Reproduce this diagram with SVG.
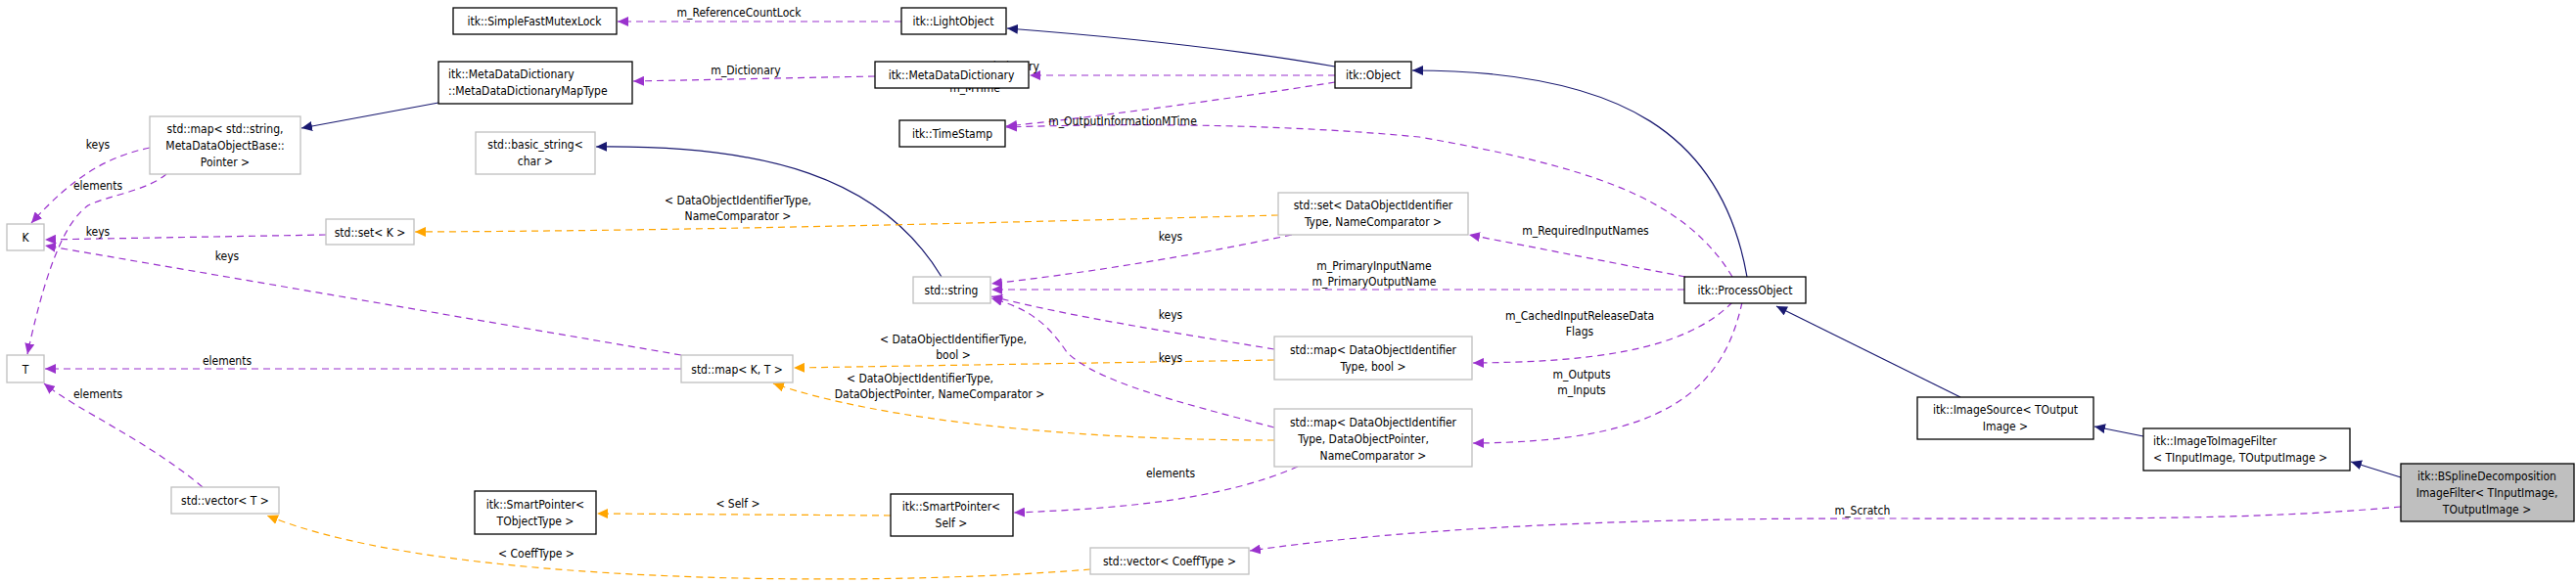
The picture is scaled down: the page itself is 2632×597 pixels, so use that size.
<svg xmlns="http://www.w3.org/2000/svg" width="2632" height="597" viewBox="0 0 2632 597">
<style>
text{font-family:"DejaVu Sans Condensed","Liberation Sans Narrow","DejaVu Sans",sans-serif;font-size:12px;fill:#000}
.n rect{fill:#fff;stroke:#000;stroke-width:1.3}
.g rect{fill:#fff;stroke:#bfbfbf;stroke-width:1.3}
.sel rect{fill:#bfbfbf;stroke:#000;stroke-width:1.3}
.c text{text-anchor:middle}
.p{fill:none;stroke:#9a32cd;stroke-dasharray:7,5;stroke-width:1.2;marker-end:url(#ap)}
.o{fill:none;stroke:#ffa500;stroke-dasharray:7,5;stroke-width:1.2;marker-end:url(#ao)}
.b{fill:none;stroke:#191970;stroke-width:1.2;marker-end:url(#ab)}
.l{text-anchor:middle}
</style>
<defs>
<marker id="ap" markerWidth="12" markerHeight="10" refX="11" refY="5" orient="auto" markerUnits="userSpaceOnUse"><path d="M0,0L11,5L0,10z" fill="#9a32cd"/></marker>
<marker id="ao" markerWidth="12" markerHeight="10" refX="11" refY="5" orient="auto" markerUnits="userSpaceOnUse"><path d="M0,0L11,5L0,10z" fill="#ffa500"/></marker>
<marker id="ab" markerWidth="12" markerHeight="10" refX="11" refY="5" orient="auto" markerUnits="userSpaceOnUse"><path d="M0,0L11,5L0,10z" fill="#191970"/></marker>
</defs>
<g id="edges">
<path class="p" d="M921,22 L631,22"/><text class="l" x="755" y="17">m_ReferenceCountLock</text>
<path class="b" d="M1364,68 C1250,48 1120,36 1029,29"/>
<path class="p" d="M894,78 L647,83"/><text class="l" x="762" y="76">m_Dictionary</text>
<path class="b" d="M448,105 L308,131"/>
<path class="p" d="M1364,77 L1052,77"/><text class="l" x="1000" y="72">m_MetaDataDictionary</text>
<path class="p" d="M1364,84 C1250,102 1100,122 1028,129"/><text class="l" x="996" y="94">m_MTime</text>
<path class="p" d="M1770,283 C1720,200 1620,170 1450,140 C1300,126 1150,126 1028,130"/><text class="l" x="1147" y="128">m_OutputInformationMTime</text>
<path class="b" d="M1785,283 C1760,140 1660,72 1443,72"/>
<path class="b" d="M962,283 C900,180 780,148 609,150"/>
<path class="p" d="M153,151 C110,160 75,180 32,228"/><text class="l" x="100" y="152">keys</text>
<path class="p" d="M170,178 C150,195 110,200 90,210 C70,225 50,260 28,362"/><text class="l" x="100" y="194">elements</text>
<path class="p" d="M333,240 L46,245"/><text class="l" x="100" y="241">keys</text>
<path class="p" d="M696,363 L46,251"/><text class="l" x="232" y="266">keys</text>
<path class="p" d="M696,377 L46,377"/><text class="l" x="232" y="373">elements</text>
<path class="p" d="M207,498 C150,450 80,420 45,392"/><text class="l" x="100" y="407">elements</text>
<path class="o" d="M1306,220 C1000,228 700,236 424,237"/><text class="l" x="754" y="209">&lt; DataObjectIdentifierType,</text><text class="l" x="754" y="225">NameComparator &gt;</text>
<path class="p" d="M1320,240 C1200,265 1100,280 1013,290"/><text class="l" x="1196" y="246">keys</text>
<path class="p" d="M1721,296 L1013,296"/><text class="l" x="1404" y="276">m_PrimaryInputName</text><text class="l" x="1404" y="292">m_PrimaryOutputName</text>
<path class="p" d="M1722,283 L1501,240"/><text class="l" x="1620" y="240">m_RequiredInputNames</text>
<path class="p" d="M1302,357 C1200,340 1100,325 1013,303"/><text class="l" x="1196" y="326">keys</text>
<path class="o" d="M1302,368 L811,376"/><text class="l" x="974" y="351">&lt; DataObjectIdentifierType,</text><text class="l" x="974" y="367">bool &gt;</text>
<path class="p" d="M1302,437 C1200,410 1120,390 1090,360 C1070,330 1050,315 1013,305"/><text class="l" x="1196" y="370">keys</text>
<path class="o" d="M1302,450 C1100,450 900,430 790,392"/><text class="l" x="940" y="391">&lt; DataObjectIdentifierType,</text><text class="l" x="960" y="407">DataObjectPointer, NameComparator &gt;</text>
<path class="p" d="M1770,309 C1720,360 1620,370 1505,371"/><text class="l" x="1614" y="327">m_CachedInputReleaseData</text><text class="l" x="1614" y="343">Flags</text>
<path class="p" d="M1780,309 C1760,400 1700,452 1505,453"/><text class="l" x="1616" y="387">m_Outputs</text><text class="l" x="1616" y="403">m_Inputs</text>
<path class="p" d="M1326,477 C1250,510 1150,520 1036,524"/><text class="l" x="1196" y="488">elements</text>
<path class="o" d="M910,527 L610,525"/><text class="l" x="754" y="519">&lt; Self &gt;</text>
<path class="o" d="M1114,582 C900,600 450,600 273,527"/><text class="l" x="548" y="570">&lt; CoeffType &gt;</text>
<path class="p" d="M2453,518 C2300,532 2150,530 1900,530 C1600,530 1400,545 1277,563"/><text class="l" x="1903" y="526">m_Scratch</text>
<path class="b" d="M2003,406 L1815,313"/>
<path class="b" d="M2190,446 L2140,436"/>
<path class="b" d="M2453,488 L2402,472"/>
</g>
<g id="n1" class="n c"><rect x="463" y="8" width="167" height="27"/><text x="546" y="26">itk::SimpleFastMutexLock</text></g>
<g id="n2" class="n c"><rect x="921" y="8" width="107" height="27"/><text x="974" y="26">itk::LightObject</text></g>
<g id="n3" class="n"><rect x="448" y="63" width="198" height="43"/><text x="458" y="80">itk::MetaDataDictionary</text><text x="458" y="97">::MetaDataDictionaryMapType</text></g>
<g id="n4" class="n c"><rect x="894" y="63" width="157" height="27"/><text x="972" y="81">itk::MetaDataDictionary</text></g>
<g id="n5" class="n c"><rect x="1364" y="63" width="78" height="27"/><text x="1403" y="81">itk::Object</text></g>
<g id="n6" class="n c"><rect x="919" y="123" width="108" height="27"/><text x="973" y="141">itk::TimeStamp</text></g>
<g id="n7" class="g c"><rect x="153" y="119" width="154" height="59"/><text x="230" y="136">std::map&lt; std::string,</text><text x="230" y="153">MetaDataObjectBase::</text><text x="230" y="170">Pointer &gt;</text></g>
<g id="n8" class="g c"><rect x="486" y="135" width="122" height="43"/><text x="547" y="152">std::basic_string&lt;</text><text x="547" y="169">char &gt;</text></g>
<g id="n9" class="g c"><rect x="7" y="229" width="38" height="27"/><text x="26" y="247">K</text></g>
<g id="n10" class="g c"><rect x="333" y="224" width="90" height="26"/><text x="378" y="242">std::set&lt; K &gt;</text></g>
<g id="n11" class="g c"><rect x="7" y="363" width="38" height="28"/><text x="26" y="382">T</text></g>
<g id="n12" class="g c"><rect x="696" y="363" width="114" height="28"/><text x="753" y="382">std::map&lt; K, T &gt;</text></g>
<g id="n13" class="g c"><rect x="175" y="498" width="110" height="27"/><text x="230" y="516">std::vector&lt; T &gt;</text></g>
<g id="n14" class="n c"><rect x="485" y="502" width="124" height="44"/><text x="547" y="520">itk::SmartPointer&lt;</text><text x="547" y="537">TObjectType &gt;</text></g>
<g id="n15" class="g c"><rect x="933" y="283" width="79" height="27"/><text x="972" y="301">std::string</text></g>
<g id="n16" class="g c"><rect x="1306" y="197" width="194" height="43"/><text x="1403" y="214">std::set&lt; DataObjectIdentifier</text><text x="1403" y="231">Type, NameComparator &gt;</text></g>
<g id="n17" class="g c"><rect x="1302" y="344" width="202" height="44"/><text x="1403" y="362">std::map&lt; DataObjectIdentifier</text><text x="1403" y="379">Type, bool &gt;</text></g>
<g id="n18" class="g c"><rect x="1302" y="418" width="202" height="59"/><text x="1403" y="436">std::map&lt; DataObjectIdentifier</text><text x="1393" y="453">Type, DataObjectPointer,</text><text x="1403" y="470">NameComparator &gt;</text></g>
<g id="n19" class="n c"><rect x="910" y="505" width="125" height="43"/><text x="972" y="522">itk::SmartPointer&lt;</text><text x="972" y="539">Self &gt;</text></g>
<g id="n20" class="g c"><rect x="1114" y="560" width="162" height="27"/><text x="1195" y="578">std::vector&lt; CoeffType &gt;</text></g>
<g id="n21" class="n c"><rect x="1721" y="283" width="124" height="27"/><text x="1783" y="301">itk::ProcessObject</text></g>
<g id="n22" class="n c"><rect x="1959" y="406" width="180" height="43"/><text x="2049" y="423">itk::ImageSource&lt; TOutput</text><text x="2049" y="440">Image &gt;</text></g>
<g id="n23" class="n"><rect x="2190" y="438" width="211" height="43"/><text x="2200" y="455">itk::ImageToImageFilter</text><text x="2200" y="472">&lt; TInputImage, TOutputImage &gt;</text></g>
<g id="n24" class="sel c"><rect x="2453" y="474" width="177" height="59"/><text x="2541" y="491">itk::BSplineDecomposition</text><text x="2541" y="508">ImageFilter&lt; TInputImage,</text><text x="2541" y="525">TOutputImage &gt;</text></g>
</svg>
